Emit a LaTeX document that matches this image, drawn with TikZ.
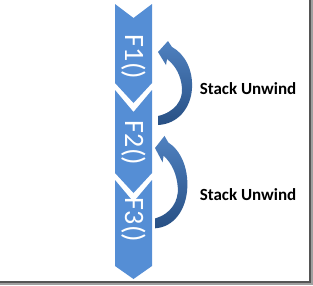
\documentclass[tikz,border=0pt]{standalone}
\usepackage{fontspec}
\setmainfont{Carlito}
\usetikzlibrary{positioning}

\definecolor{chevblue}{RGB}{85,142,213}
\definecolor{arcdark}{RGB}{40,80,132}
\definecolor{arclight}{RGB}{79,129,192}
\definecolor{shadedark}{RGB}{85,85,85}
\definecolor{shadelight}{RGB}{160,160,160}

% curved block arrow, tip at the origin
\newcommand{\unwindarrow}{%
  (0,0) -- (10,-11) -- (14,-5)
    .. controls (27,2) and (35,18) .. (34,36)
    .. controls (33,56) and (20,72) .. (0,73)
    -- (0,64)
    .. controls (17,60) and (25,48) .. (24,36)
    .. controls (23,24) and (18,14) .. (9,7)
    -- (8,13) -- cycle}

\begin{document}
\begin{tikzpicture}[
    x=1pt, y=-1pt,
    chevron/.style={fill=chevblue, draw=none},
    unwind/.style={draw=none, top color=arclight, bottom color=arcdark},
    fname/.style={text=white, rotate=-90, font=\fontsize{28}{30}\selectfont},
    lbl/.style={font=\fontsize{17}{20}\selectfont\bfseries}
  ]
  \useasboundingbox (0,0) rectangle (313,285);

  % frame shadow
  \fill[shadelight] (311,0) rectangle (313,285);
  \fill[shadelight] (0,283) rectangle (313,285);
  \fill[shadedark] (309,0) rectangle (311,283);
  \fill[shadedark] (0,281) rectangle (311,283);

  % chevrons: top, notch, side bottom, point
  \foreach \t/\n/\b/\p in {4/18/83/103, 90/112/173/193, 180/202/266/279} {
    \fill[chevron] (115,\t) -- (133.5,\n) -- (152,\t) -- (152,\b)
      -- (133.5,\p) -- (115,\b) -- cycle;
  }
  \node[fname] (f1) at (133.5,57) {F1()};
  \node[fname] (f2) at (133.5,143) {F2()};
  \node[fname] (f3) at (133.5,220) {F3()};

  % unwind arrows
  \begin{scope}[shift={(158,52)}]
    \path[unwind] \unwindarrow;
  \end{scope}
  \begin{scope}[shift={(155,148)}, xscale=0.95, yscale=1.1]
    \path[unwind] \unwindarrow;
  \end{scope}

  \node[lbl] (u1) at (248,89) {Stack Unwind};
  \node[lbl] (u2) at (248,195) {Stack Unwind};
\end{tikzpicture}
\end{document}
